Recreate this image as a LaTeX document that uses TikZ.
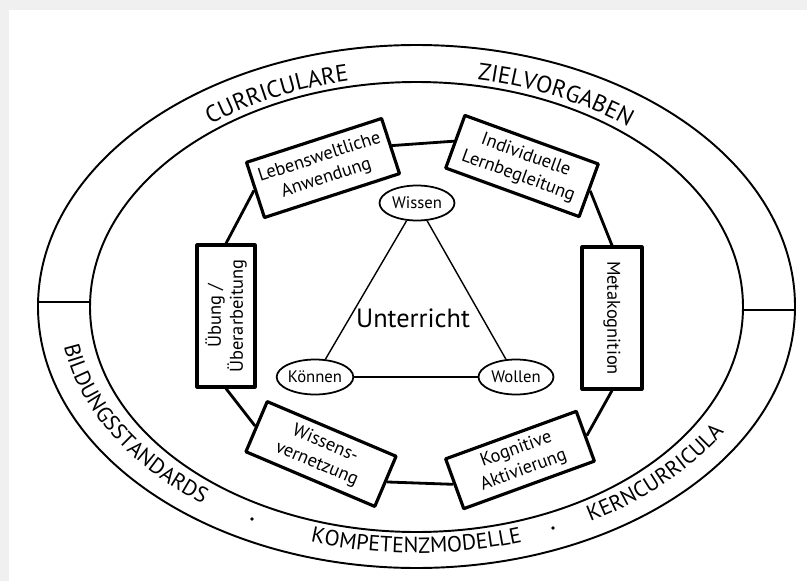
\documentclass[tikz,border=0pt]{standalone}
\usepackage{fontspec}
\setmainfont{PT Sans}
\usetikzlibrary{shapes.geometric,decorations.text}
\definecolor{framegray}{HTML}{F0F0F0}
\newcommand{\ringfont}{\fontsize{12.5}{14}\selectfont}
\newcommand{\ringfonttop}{\fontsize{13.5}{15}\selectfont}
\tikzset{box/.style={draw, line width=1.8pt, align=center, inner sep=2pt, font=\fontsize{10.5}{12.5}\selectfont}}
\tikzset{bubble/.style={draw, ellipse, line width=1pt, inner sep=0pt, minimum width=1.5cm, minimum height=0.7cm, font=\fontsize{9.5}{11}\selectfont}}
\tikzset{link/.style={line width=1.6pt}, ring/.style={line width=1.1pt}}
\tikzset{ringtext/.style={decorate, decoration={text along path, text align=center, text={|\ringfont|#1}}}}
\tikzset{ringtexttop/.style={decorate, decoration={text along path, text align=center, text={|\ringfonttop|#1}}}}

\begin{document}
\begin{tikzpicture}[x=0.02cm, y=-0.02cm, line join=round]
		\useasboundingbox (0,0) rectangle (807,581);
		\fill[framegray] (0,0) rectangle (807,581);
		\fill[white] (9,10) rectangle (807,581);
		
		% ring
		\draw[ring] (416.5,306.5) ellipse [x radius=378.5, y radius=261.5];
		\draw[ring] (416.5,307) ellipse [x radius=326.5, y radius=225];
		\draw[line width=0.7pt] (38,302) -- (90,302);
		\draw[line width=0.7pt] (743,310) -- (795,310);
		
		\path[ringtexttop={CURRICULARE}] plot[domain=214:274, samples=61] ({416.5+337*cos(\x)},{307+231*sin(\x)});
		\path[ringtexttop={ZIELVORGABEN}] plot[domain=266:326, samples=61] ({416.5+337*cos(\x)},{307+231*sin(\x)});
		\path[ringtext={BILDUNGSSTANDARDS}] plot[domain=188:114, samples=75] ({416.5+357*cos(\x)},{307+246*sin(\x)});
		\path[ringtext={KOMPETENZMODELLE}] plot[domain=125:55, samples=71] ({416.5+357*cos(\x)},{307+246*sin(\x)});
		\path[ringtext={KERNCURRICULA}] plot[domain=75:12, samples=64] ({416.5+357*cos(\x)},{307+246*sin(\x)});
		\fill (252,519) circle (1.8);
		\fill (553,528) circle (1.8);
		
		% octagon
		\node[box, rotate=18, minimum width=2.84cm, minimum height=1.16cm] (lebenswelt) at (323,168) {Lebensweltliche\\Anwendung};
		\node[box, rotate=-20, minimum width=2.84cm, minimum height=1.12cm] (lernbegleitung) at (522,166) {Individuelle\\Lernbegleitung};
		\node[box, rotate=90, minimum width=2.84cm, minimum height=1.16cm] (uebung) at (226,316) {Übung /\\Überarbeitung};
		\node[box, rotate=-90, minimum width=2.84cm, minimum height=1.2cm] (meta) at (612,318) {Metakognition};
		\node[box, rotate=-23, minimum width=2.8cm, minimum height=1.09cm] (vernetzung) at (321,454) {Wissens-\\vernetzung};
		\node[box, rotate=20, minimum width=2.78cm, minimum height=1.06cm] (aktivierung) at (520,460) {Kognitive\\Aktivierung};
		
		\draw[link] (lebenswelt.east) -- (lernbegleitung.west);
		\draw[link] (lernbegleitung.east) -- (meta.west);
		\draw[link] (meta.east) -- (aktivierung.east);
		\draw[link] (aktivierung.west) -- (vernetzung.east);
		\draw[link] (vernetzung.west) -- (uebung.west);
		\draw[link] (uebung.east) -- (lebenswelt.west);
		
		% triangle
		\node[bubble] (wissen) at (417,203) {Wissen};
		\node[bubble] (koennen) at (315,377) {Können};
		\node[bubble] (wollen) at (516,377) {Wollen};
		\node[font=\fontsize{15}{17}\selectfont] (unterricht) at (413,318) {Unterricht};
		\draw[line width=0.8pt] (wissen) -- (koennen);
		\draw[line width=0.8pt] (koennen) -- (wollen);
		\draw[line width=0.8pt] (wollen) -- (wissen);
	\end{tikzpicture}
\end{document}
